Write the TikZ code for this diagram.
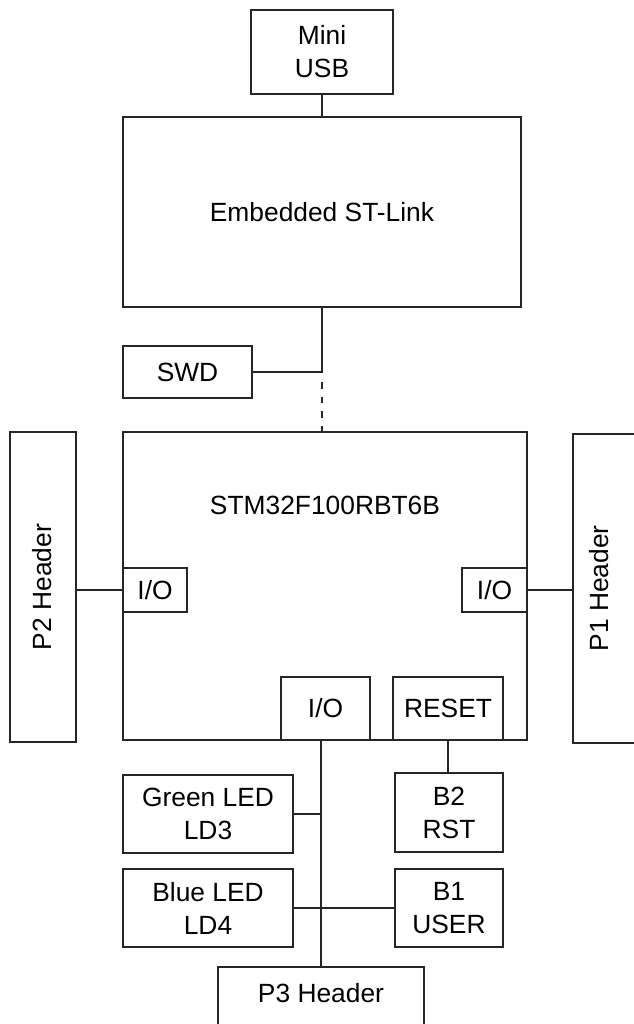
\documentclass[tikz,border=0pt]{standalone}
\usepackage{fontspec}
\setmainfont{Liberation Sans}
\usetikzlibrary{positioning}

\begin{document}
\begin{tikzpicture}[
    block/.style={rectangle, draw=black!85, line width=0.8pt, inner sep=0pt, align=center, font=\fontsize{15}{18.8}\selectfont},
    label/.style={inner sep=0pt, align=center, font=\fontsize{15}{18.8}\selectfont},
    link/.style={draw=black!85, line width=0.8pt},
]
\useasboundingbox (0,0) rectangle (12.66,-20.48);

% ST-Link part
\node[block, minimum width=2.84cm, minimum height=1.68cm] (usb) at (6.44,-1.04) {Mini\\USB};
\node[block, minimum width=7.96cm, minimum height=3.80cm] (stlink) at (6.44,-4.24) {Embedded ST-Link};
\node[block, minimum width=2.58cm, minimum height=1.04cm] (swd) at (3.75,-7.44) {SWD};
\coordinate (swdgap) at (6.44,-7.64);

% MCU and headers
\node[block, minimum width=8.08cm, minimum height=6.16cm] (mcu) at (6.50,-11.72) {};
\node[label] (mcutxt) at (6.50,-10.10) {STM32F100RBT6B};
\node[block, minimum width=1.28cm, minimum height=0.88cm] (ioL) at (3.10,-11.80) {I/O};
\node[block, minimum width=1.30cm, minimum height=0.88cm] (ioR) at (9.89,-11.80) {I/O};
\node[block, minimum width=1.32cm, minimum height=6.20cm] (p2) at (0.86,-11.74) {};
\node[label, rotate=90] (p2txt) at (0.85,-11.74) {P2 Header};
\node[block, minimum width=1.32cm, minimum height=6.18cm] (p1) at (12.12,-11.77) {};
\node[label, rotate=90] (p1txt) at (11.98,-11.77) {P1 Header};
\node[block, minimum width=1.78cm, minimum height=1.26cm] (ioB) at (6.51,-14.17) {I/O};
\node[block, minimum width=2.20cm, minimum height=1.26cm] (reset) at (8.96,-14.17) {RESET};

% LEDs, buttons, P3
\node[block, minimum width=3.40cm, minimum height=1.56cm] (green) at (4.16,-16.28) {Green LED\\LD3};
\node[block, minimum width=3.40cm, minimum height=1.56cm] (blue) at (4.16,-18.16) {Blue LED\\LD4};
\node[block, minimum width=2.16cm, minimum height=1.58cm] (b2) at (8.98,-16.25) {B2\\RST};
\node[block, minimum width=2.16cm, minimum height=1.56cm] (b1) at (8.98,-18.16) {B1\\USER};
\node[block, minimum width=4.12cm, minimum height=1.60cm] (p3) at (6.42,-20.14) {};
\node[label] (p3txt) at (6.42,-19.86) {P3 Header};

\draw[link] (usb.south) -- (stlink.north);
\draw[link] (stlink.south) |- (swd.east);
\draw[link, dash pattern=on 1.3mm off 1.6mm] (swdgap) -- (swdgap |- mcu.north);
\draw[link] (p2.east |- ioL.west) -- (ioL.west);
\draw[link] (ioR.east) -- (ioR.east -| p1.west);
\draw[link] (ioB.south -| p3.north) -- (p3.north);
\draw[link] (reset.south) -- (reset.south |- b2.north);
\draw[link] (green.east) -- (green.east -| p3.north);
\draw[link] (blue.east) -- (blue.east -| b1.west);
\end{tikzpicture}
\end{document}
